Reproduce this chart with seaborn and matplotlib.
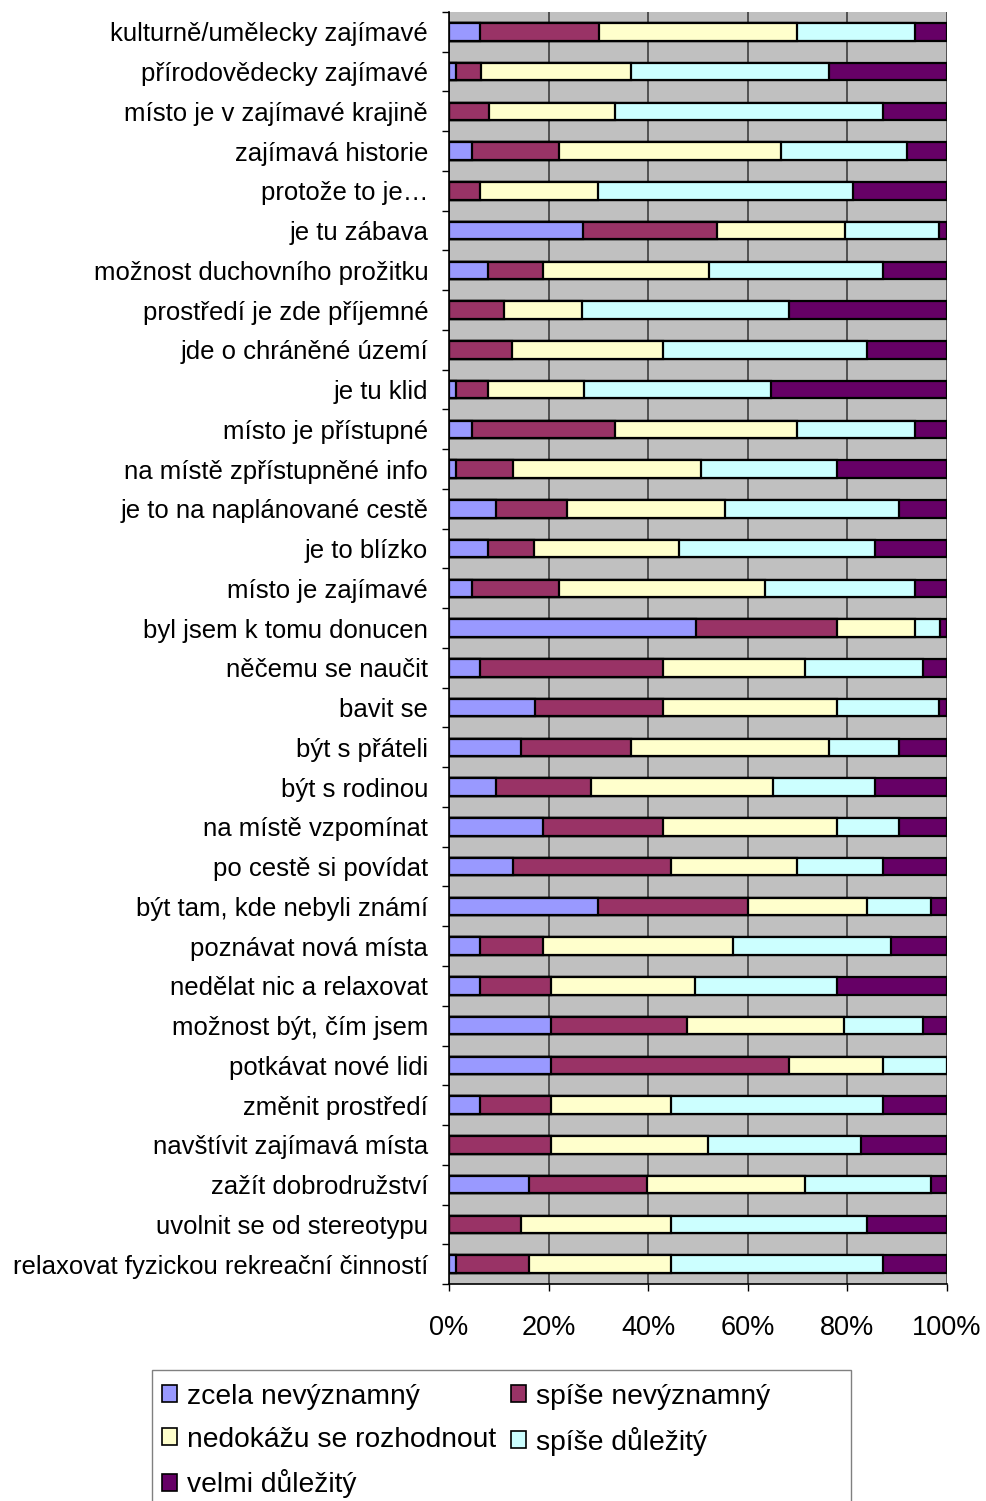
import matplotlib
matplotlib.use("Agg")
import matplotlib.pyplot as plt
from matplotlib.patches import Patch, Rectangle
from matplotlib.ticker import FixedLocator, PercentFormatter
import seaborn as sb
import numpy as np
import pandas as pd

categories = [
    "kulturně/umělecky zajímavé",
    "přírodovědecky zajímavé",
    "místo je v zajímavé krajině",
    "zajímavá historie",
    "protože to je…",
    "je tu zábava",
    "možnost duchovního prožitku",
    "prostředí je zde příjemné",
    "jde o chráněné území",
    "je tu klid",
    "místo je přístupné",
    "na místě zpřístupněné info",
    "je to na naplánované cestě",
    "je to blízko",
    "místo je zajímavé",
    "byl jsem k tomu donucen",
    "něčemu se naučit",
    "bavit se",
    "být s přáteli",
    "být s rodinou",
    "na místě vzpomínat",
    "po cestě si povídat",
    "být tam, kde nebyli známí",
    "poznávat nová místa",
    "nedělat nic a relaxovat",
    "možnost být, čím jsem",
    "potkávat nové lidi",
    "změnit prostředí",
    "navštívit zajímavá místa",
    "zažít dobrodružství",
    "uvolnit se od stereotypu",
    "relaxovat fyzickou rekreační činností",
]

# shares in %
zcela_nevyznamny = [6.3, 1.5, 0, 4.7, 0, 26.9, 7.9, 0, 0, 1.5, 4.7, 1.5, 9.5, 7.9, 4.7, 49.5,
                    6.3, 17.2, 14.4, 9.5, 18.8, 12.8, 30.0, 6.3, 6.3, 20.4, 20.4, 6.3, 0, 16.0, 0, 1.5]
spise_nevyznamny = [23.8, 4.9, 8.0, 17.4, 6.3, 26.9, 10.9, 11.1, 12.7, 6.4, 28.5, 11.3, 14.1, 9.2, 17.4, 28.4,
                    36.6, 25.7, 22.1, 19.0, 24.1, 31.8, 30.2, 12.5, 14.1, 27.3, 47.8, 14.1, 20.4, 23.8, 14.4, 14.5]
nedokazu = [39.7, 30.2, 25.3, 44.6, 23.7, 25.7, 33.3, 15.7, 30.2, 19.3, 36.6, 37.8, 31.7, 29.1, 41.4, 15.7,
            28.5, 35.0, 39.7, 36.5, 35.0, 25.3, 23.8, 38.2, 29.0, 31.6, 19.0, 24.1, 31.7, 31.7, 30.2, 28.6]
spise_dulezity = [23.7, 39.7, 53.9, 25.3, 51.1, 19.0, 35.0, 41.4, 41.1, 37.5, 23.7, 27.3, 35.0, 39.3, 30.2, 4.9,
                  23.8, 20.5, 14.1, 20.6, 12.5, 17.4, 12.9, 31.8, 28.4, 15.8, 12.8, 42.6, 30.6, 25.4, 39.4, 42.6]
velmi_dulezity = [6.4, 23.7, 12.8, 8.0, 18.9, 1.6, 12.8, 31.8, 16.0, 35.4, 6.4, 22.1, 9.6, 14.4, 6.4, 1.5,
                  4.8, 1.6, 9.6, 14.4, 9.6, 12.8, 3.2, 11.3, 22.1, 4.8, 0, 12.8, 17.3, 3.2, 16.1, 12.8]

series_names = ["zcela nevýznamný", "spíše nevýznamný", "nedokážu se rozhodnout",
                "spíše důležitý", "velmi důležitý"]
colors = ["#9999FF", "#993366", "#FFFFCC", "#CCFFFF", "#660066"]

df = pd.DataFrame({
    "kategorie": categories,
    series_names[0]: zcela_nevyznamny,
    series_names[1]: spise_nevyznamny,
    series_names[2]: nedokazu,
    series_names[3]: spise_dulezity,
    series_names[4]: velmi_dulezity,
})
vals = df[series_names].to_numpy(dtype=float)
vals = vals / vals.sum(axis=1, keepdims=True)  # 100% stacked
cum = np.cumsum(vals, axis=1)

plt.rcParams['font.family'] = ['Liberation Sans', 'DejaVu Sans']

fig = plt.figure(figsize=(9.86, 15.01), dpi=100)
ax = fig.add_axes([449 / 986, 1 - 1284 / 1501, 498 / 986, 1272 / 1501])
ax.set_facecolor("#C0C0C0")

# draw cumulative totals from the right, each overlaying the previous
for i in range(len(series_names) - 1, -1, -1):
    sb.barplot(x=cum[:, i], y=df["kategorie"], orient="h", color=colors[i],
               edgecolor="black", linewidth=1.6, width=0.44, saturation=1, ax=ax, zorder=3)

n = len(categories)
ax.set_ylim(n - 0.5, -0.5)
ax.set_xlim(0, 1)
ax.set_xlabel("")
ax.set_ylabel("")

ax.xaxis.set_major_locator(FixedLocator([0, 0.2, 0.4, 0.6, 0.8, 1.0]))
ax.xaxis.set_major_formatter(PercentFormatter(1.0, decimals=0))
ax.grid(axis="x", color="#333333", linewidth=1.1, zorder=0)
ax.grid(axis="y", visible=False)
ax.set_axisbelow(True)

ax.yaxis.set_minor_locator(FixedLocator(np.arange(-0.5, n, 1.0)))
ax.tick_params(axis="y", which="major", length=0, pad=15, labelsize=18.5)
ax.tick_params(axis="y", which="minor", length=5, width=1, color="black")
ax.tick_params(axis="x", which="major", length=5, width=1, pad=17, labelsize=19.5)

for s in ["top", "right"]:
    ax.spines[s].set_visible(False)
for s in ["left", "bottom"]:
    ax.spines[s].set_color("black")
    ax.spines[s].set_linewidth(1.2)

# legend box (wider than its content, runs past the bottom edge)
fig.patches.append(Rectangle((152 / 986, -0.01), (851 - 152) / 986, (1501 - 1370) / 1501 + 0.01,
                             transform=fig.transFigure, facecolor="white",
                             edgecolor="#808080", linewidth=1.0, zorder=0))

handles = [Patch(facecolor=c, edgecolor="black", linewidth=1.2) for c in colors]
order = [0, 2, 4, 1, 3]
leg = fig.legend([handles[k] for k in order], [series_names[k] for k in order],
                 loc="upper left", bbox_to_anchor=(156 / 986, 1 - 1378 / 1501),
                 ncol=2, fontsize=20.3, frameon=False,
                 handlelength=0.55, handleheight=0.55,
                 handletextpad=0.35, columnspacing=0.52, labelspacing=0.6,
                 borderpad=0.2, borderaxespad=0)

plt.savefig("out.png", dpi=100)
plt.close()
